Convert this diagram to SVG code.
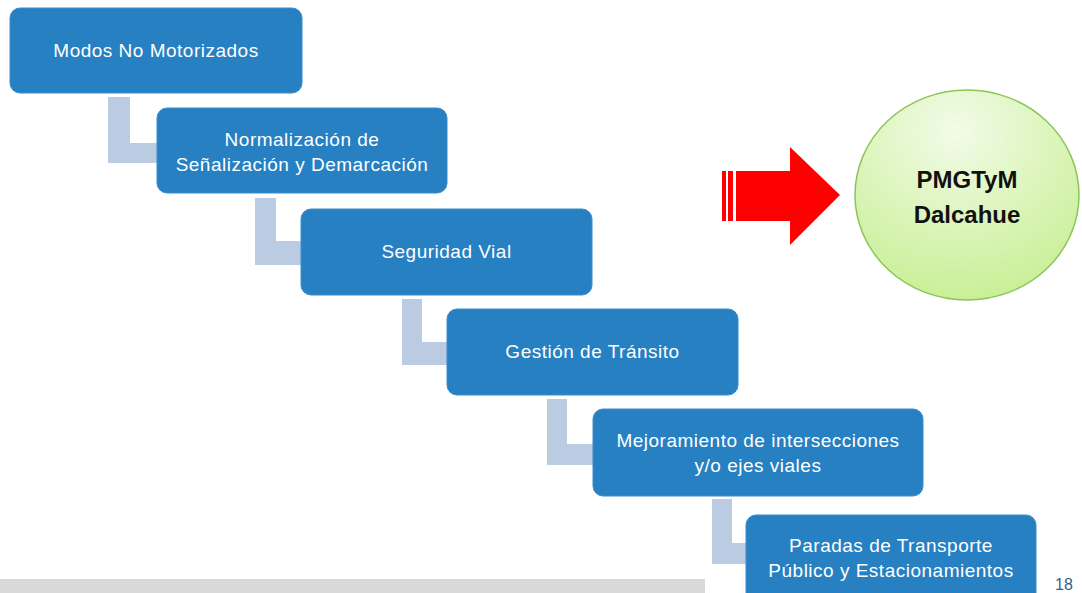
<svg xmlns="http://www.w3.org/2000/svg" width="1082" height="593" viewBox="0 0 1082 593">
<defs>
<style>
.box{fill:#2680C2;stroke:#3a8ccb;stroke-width:1}
.bt{font-family:"Liberation Sans",Arial,sans-serif;font-size:19px;letter-spacing:0.5px;fill:#ffffff;text-anchor:middle}
.con{fill:#BBCCE2}
.ct{font-family:"Liberation Sans",Arial,sans-serif;font-size:24px;font-weight:bold;fill:#111111;text-anchor:middle}
</style>
<radialGradient id="gc" cx="0.45" cy="0.2" r="0.9">
<stop offset="0" stop-color="#f2fbe8"/>
<stop offset="1" stop-color="#c4ee8c"/>
</radialGradient>
</defs>
<rect x="0" y="0" width="1082" height="593" fill="#ffffff"/>
<rect x="0" y="579" width="705" height="14" fill="#D9D9D9"/>
<g id="connectors">
<polygon class="con" points="108,97 130,97 130,143 160,143 160,163 108,163"/>
<polygon class="con" points="255,198 276,198 276,241 304,241 304,265 255,265"/>
<polygon class="con" points="402,299 422,299 422,342 450,342 450,365 402,365"/>
<polygon class="con" points="547,399 567,399 567,444 596,444 596,465 547,465"/>
<polygon class="con" points="712,499 732,499 732,543 749,543 749,564 712,564"/>
</g>
<g id="n1"><rect class="box" x="10" y="8" width="292" height="85" rx="10"/><text class="bt" x="156" y="57">Modos No Motorizados</text></g>
<g id="n2"><rect class="box" x="157" y="108" width="290" height="85" rx="10"/><text class="bt" x="302" y="146">Normalización de</text><text class="bt" x="302" y="171">Señalización y Demarcación</text></g>
<g id="n3"><rect class="box" x="301" y="209" width="291" height="86" rx="10"/><text class="bt" x="446.5" y="258">Seguridad Vial</text></g>
<g id="n4"><rect class="box" x="447" y="309" width="291" height="86" rx="10"/><text class="bt" x="592.5" y="358">Gestión de Tránsito</text></g>
<g id="n5"><rect class="box" x="593" y="409" width="330" height="87" rx="10"/><text class="bt" x="758" y="447">Mejoramiento de intersecciones</text><text class="bt" x="758" y="472">y/o ejes viales</text></g>
<g id="n6"><rect class="box" x="746" y="515" width="290" height="88" rx="10"/><text class="bt" x="891" y="552">Paradas de Transporte</text><text class="bt" x="891" y="577">Público y Estacionamientos</text></g>
<g id="arrow">
<rect x="722" y="171" width="4" height="50" fill="#FF0000"/>
<rect x="728" y="171" width="5" height="50" fill="#FF0000"/>
<polygon points="736,171 790,171 790,147 840,195 790,245 790,221 736,221" fill="#FF0000"/>
</g>
<g id="target">
<ellipse cx="967" cy="195" rx="112" ry="105" fill="url(#gc)" stroke="#8cc45a" stroke-width="1.5"/>
<text class="ct" x="967" y="188">PMGTyM</text>
<text class="ct" x="967" y="223">Dalcahue</text>
</g>
<text x="1055" y="590" font-family="Liberation Sans,Arial,sans-serif" font-size="16" fill="#2F5F8F">18</text>
</svg>
